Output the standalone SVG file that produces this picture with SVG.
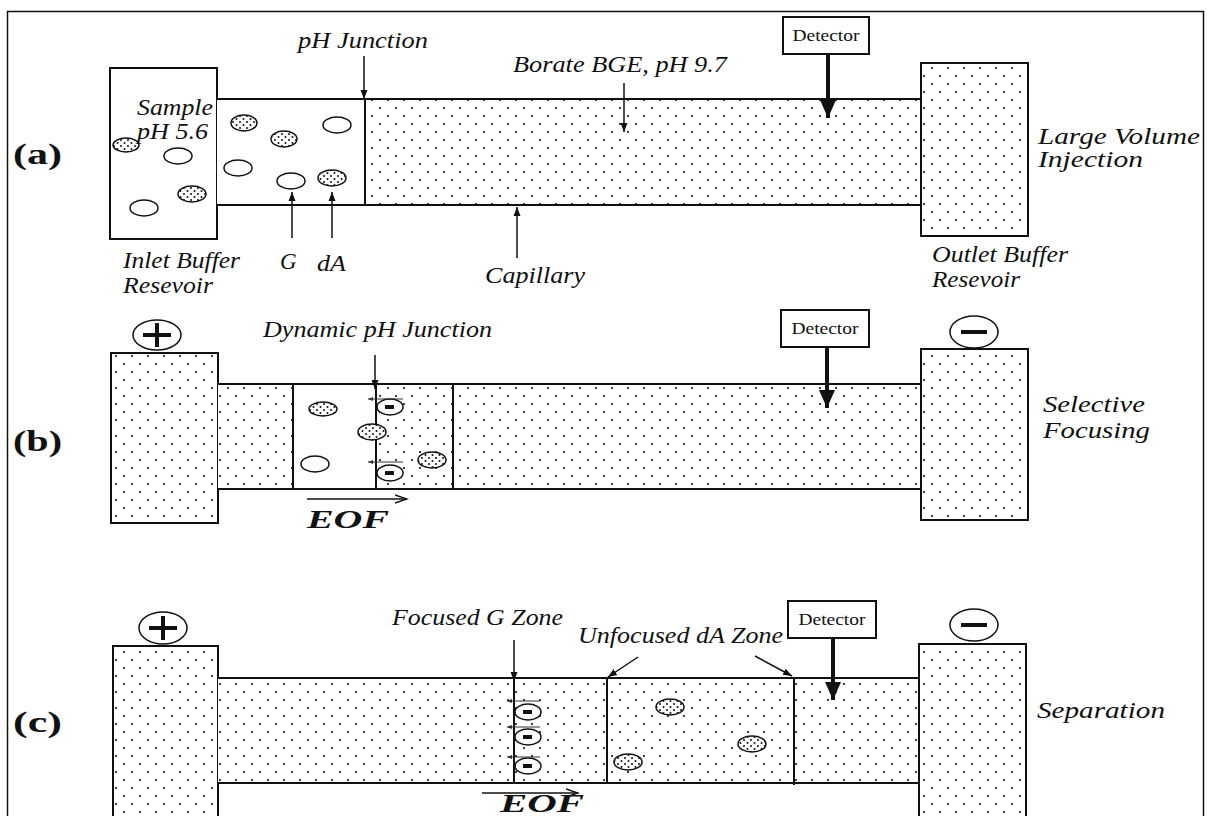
<svg xmlns="http://www.w3.org/2000/svg" width="1207" height="816" viewBox="0 0 1207 816">
<style>
  .lbl{font-family:"Liberation Serif","Times New Roman",serif;font-style:italic;font-size:23px;fill:#111}
  .pan{font-family:"Liberation Serif","Times New Roman",serif;font-weight:bold;font-size:30px;fill:#111}
  .det{font-family:"Liberation Serif","Times New Roman",serif;font-size:17px;fill:#111}
  .eof{font-family:"Liberation Serif","Times New Roman",serif;font-style:italic;font-weight:bold;font-size:25px;fill:#111}
  .wall{fill:none;stroke:#111;stroke-width:2}
  .dot{fill:url(#dots)}
  .white{fill:#fff}
  .box{fill:#fff;stroke:#111;stroke-width:2}
  .thin{stroke:#111;stroke-width:1.5;fill:none}
  .thick{stroke:#111;stroke-width:4;fill:none}
  .tiny{stroke:#333;stroke-width:1;fill:none}
  .part{stroke:#111;stroke-width:1.5}
  .sign{stroke:#111;stroke-width:4;fill:none}
</style>
<defs>
  <pattern id="dots" width="16" height="16" patternUnits="userSpaceOnUse">
    <rect width="16" height="16" fill="#fff"/>
    <circle cx="4" cy="4" r="1.1" fill="#111"/>
    <circle cx="12" cy="12" r="1.1" fill="#111"/>
  </pattern>
  <pattern id="pdots" width="7" height="6" patternUnits="userSpaceOnUse">
    <rect width="7" height="6" fill="#fff"/>
    <circle cx="2" cy="2" r="1" fill="#111"/>
    <circle cx="5.5" cy="5" r="1" fill="#111"/>
  </pattern>
  <marker id="ah" markerWidth="10" markerHeight="10" refX="9" refY="5" orient="auto" markerUnits="userSpaceOnUse">
    <path d="M0,1.5 L9,5 L0,8.5 z" fill="#111"/>
  </marker>
  <marker id="ahBig" markerWidth="20" markerHeight="20" refX="18" refY="10" orient="auto" markerUnits="userSpaceOnUse">
    <path d="M0,2 L18,10 L0,18 z" fill="#111"/>
  </marker>
  <marker id="ahOpen" markerWidth="14" markerHeight="10" refX="12" refY="5" orient="auto" markerUnits="userSpaceOnUse">
    <path d="M0,1 L12,5 L0,9" fill="none" stroke="#111" stroke-width="1.5"/>
  </marker>
  <marker id="ahTiny" markerWidth="6" markerHeight="6" refX="5" refY="3" orient="auto" markerUnits="userSpaceOnUse">
    <path d="M0,1 L5,3 L0,5 z" fill="#333"/>
  </marker>
</defs>
<rect width="1207" height="816" fill="#fff"/>
<rect id="frame" x="7.5" y="11.5" width="1196" height="830" fill="none" stroke="#111" stroke-width="1.5"/>

<!-- ================= Panel (a) ================= -->
<g id="panel-a">
  <text class="pan" x="13" y="164" textLength="49" lengthAdjust="spacingAndGlyphs">(a)</text>
  <g id="a-inlet">
    <rect class="box" x="110" y="68" width="107" height="171"/>
  </g>
  <g id="a-capillary">
    <rect class="white" x="217" y="99" width="148" height="106"/>
    <rect class="dot" x="365" y="99" width="556" height="106"/>
    <line class="wall" x1="217" y1="99" x2="921" y2="99"/>
    <line class="wall" x1="217" y1="205" x2="921" y2="205"/>
    <line class="wall" x1="365" y1="99" x2="365" y2="205"/>
  </g>
  <g id="a-outlet">
    <rect class="dot" x="921" y="63" width="107" height="173"/>
    <rect class="wall" x="921" y="63" width="107" height="173"/>
  </g>
  <g id="a-particles">
    <ellipse class="part" fill="url(#pdots)" cx="126" cy="145" rx="13" ry="7"/>
    <ellipse class="part" fill="#fff" cx="178" cy="156" rx="14" ry="8"/>
    <ellipse class="part" fill="url(#pdots)" cx="192" cy="194" rx="14" ry="8"/>
    <ellipse class="part" fill="#fff" cx="144" cy="208" rx="14" ry="8"/>
    <ellipse class="part" fill="url(#pdots)" cx="244" cy="123" rx="13" ry="8"/>
    <ellipse class="part" fill="url(#pdots)" cx="284" cy="139" rx="13" ry="8"/>
    <ellipse class="part" fill="#fff" cx="337" cy="125" rx="14" ry="8"/>
    <ellipse class="part" fill="#fff" cx="238" cy="168" rx="14" ry="8"/>
    <ellipse class="part" fill="#fff" cx="291" cy="181" rx="14" ry="8"/>
    <ellipse class="part" fill="url(#pdots)" cx="332" cy="178" rx="14" ry="8"/>
  </g>
  <g id="a-detector">
    <rect class="box" x="783" y="17" width="86" height="37"/>
    <text class="det" x="826" y="41" text-anchor="middle" textLength="67" lengthAdjust="spacingAndGlyphs">Detector</text>
  </g>
  <text class="lbl" font-size="21"><tspan x="137" y="115" textLength="76" lengthAdjust="spacingAndGlyphs">Sample</tspan><tspan x="137" y="139" textLength="71" lengthAdjust="spacingAndGlyphs">pH 5.6</tspan></text>
  <text class="lbl" x="298" y="48" textLength="130" lengthAdjust="spacingAndGlyphs">pH Junction</text>
  <text class="lbl" x="513" y="72" textLength="214" lengthAdjust="spacingAndGlyphs">Borate BGE, pH 9.7</text>
  <text class="lbl"><tspan x="123" y="268" textLength="117" lengthAdjust="spacingAndGlyphs">Inlet Buffer</tspan><tspan x="123" y="293" textLength="90" lengthAdjust="spacingAndGlyphs">Resevoir</tspan></text>
  <text class="lbl" x="280" y="269">G</text>
  <text class="lbl" x="317" y="271" textLength="29" lengthAdjust="spacingAndGlyphs">dA</text>
  <text class="lbl" x="485" y="283" textLength="100" lengthAdjust="spacingAndGlyphs">Capillary</text>
  <text class="lbl"><tspan x="932" y="262" textLength="136" lengthAdjust="spacingAndGlyphs">Outlet Buffer</tspan><tspan x="932" y="287" textLength="88" lengthAdjust="spacingAndGlyphs">Resevoir</tspan></text>
  <text class="lbl" font-size="25"><tspan x="1038" y="144" textLength="162" lengthAdjust="spacingAndGlyphs">Large Volume</tspan><tspan x="1038" y="167" textLength="105" lengthAdjust="spacingAndGlyphs">Injection</tspan></text>
</g>

<!-- ================= Panel (b) ================= -->
<g id="panel-b">
  <text class="pan" x="13" y="451" textLength="49" lengthAdjust="spacingAndGlyphs">(b)</text>
  <g id="b-anode">
    <ellipse cx="157" cy="335" rx="24" ry="15" fill="#fff" stroke="#111" stroke-width="1.5"/>
    <path class="sign" d="M143,335 H171 M157,323 V347"/>
  </g>
  <g id="b-inlet">
    <rect class="dot" x="111" y="353" width="107" height="170"/>
    <rect class="wall" x="111" y="353" width="107" height="170"/>
  </g>
  <g id="b-capillary">
    <rect class="dot" x="218" y="384" width="703" height="105"/>
    <rect class="white" x="293" y="385" width="83" height="103"/>
    <line class="wall" x1="218" y1="384" x2="921" y2="384"/>
    <line class="wall" x1="218" y1="489" x2="921" y2="489"/>
    <line class="wall" x1="293" y1="384" x2="293" y2="489"/>
    <line class="wall" x1="376" y1="384" x2="376" y2="489"/>
    <line class="wall" x1="453" y1="384" x2="453" y2="489"/>
  </g>
  <g id="b-outlet">
    <rect class="dot" x="921" y="349" width="107" height="171"/>
    <rect class="wall" x="921" y="349" width="107" height="171"/>
  </g>
  <g id="b-cathode">
    <ellipse cx="974" cy="332" rx="24" ry="16" fill="#fff" stroke="#111" stroke-width="1.5"/>
    <path class="sign" d="M961,332 H987"/>
  </g>
  <g id="b-particles">
    <ellipse class="part" fill="url(#pdots)" cx="323" cy="409" rx="14" ry="7"/>
    <ellipse class="part" fill="url(#pdots)" cx="372" cy="432" rx="14" ry="8"/>
    <ellipse class="part" fill="#fff" cx="315" cy="464" rx="14" ry="8"/>
    <ellipse class="part" fill="url(#pdots)" cx="432" cy="460" rx="14" ry="8"/>
    <ellipse class="part" fill="#fff" cx="390" cy="407" rx="13" ry="8"/>
    <path class="sign" stroke-width="3" d="M385,407 H394"/>
    <ellipse class="part" fill="#fff" cx="390" cy="473" rx="13" ry="8"/>
    <path class="sign" stroke-width="3" d="M385,473 H394"/>
    <line class="tiny" x1="403" y1="399" x2="368" y2="399" marker-end="url(#ahTiny)"/>
    <line class="tiny" x1="403" y1="462" x2="368" y2="462" marker-end="url(#ahTiny)"/>
  </g>
  <g id="b-detector">
    <rect class="box" x="781" y="310" width="88" height="37"/>
    <text class="det" x="825" y="334" text-anchor="middle" textLength="67" lengthAdjust="spacingAndGlyphs">Detector</text>
  </g>
  <text class="lbl" x="263" y="337" textLength="229" lengthAdjust="spacingAndGlyphs">Dynamic pH Junction</text>
  <text class="eof" x="307" y="528" textLength="82" lengthAdjust="spacingAndGlyphs">EOF</text>
  <text class="lbl" font-size="25"><tspan x="1043" y="412" textLength="102" lengthAdjust="spacingAndGlyphs">Selective</tspan><tspan x="1043" y="438" textLength="107" lengthAdjust="spacingAndGlyphs">Focusing</tspan></text>
</g>

<!-- ================= Panel (c) ================= -->
<g id="panel-c">
  <text class="pan" x="13" y="732" textLength="49" lengthAdjust="spacingAndGlyphs">(c)</text>
  <g id="c-anode">
    <ellipse cx="163" cy="628" rx="24" ry="16" fill="#fff" stroke="#111" stroke-width="1.5"/>
    <path class="sign" d="M149,628 H177 M163,616 V640"/>
  </g>
  <g id="c-inlet">
    <rect class="dot" x="113" y="646" width="105" height="190"/>
    <rect class="wall" x="113" y="646" width="105" height="190"/>
  </g>
  <g id="c-capillary">
    <rect class="dot" x="218" y="678" width="701" height="105"/>
    <line class="wall" x1="218" y1="678" x2="919" y2="678"/>
    <line class="wall" x1="218" y1="783" x2="919" y2="783"/>
    <line class="wall" x1="514" y1="678" x2="514" y2="783"/>
    <line class="wall" x1="607" y1="678" x2="607" y2="783"/>
    <line class="wall" x1="794" y1="678" x2="794" y2="785"/>
  </g>
  <g id="c-outlet">
    <rect class="dot" x="919" y="644" width="107" height="190"/>
    <rect class="wall" x="919" y="644" width="107" height="190"/>
  </g>
  <g id="c-cathode">
    <ellipse cx="974" cy="625" rx="24" ry="16" fill="#fff" stroke="#111" stroke-width="1.5"/>
    <path class="sign" d="M961,625 H987"/>
  </g>
  <g id="c-particles">
    <ellipse class="part" fill="#fff" cx="528" cy="712" rx="13" ry="8"/>
    <path class="sign" stroke-width="3" d="M523,712 H532"/>
    <ellipse class="part" fill="#fff" cx="528" cy="737" rx="13" ry="8"/>
    <path class="sign" stroke-width="3" d="M523,737 H532"/>
    <ellipse class="part" fill="#fff" cx="528" cy="766" rx="13" ry="8"/>
    <path class="sign" stroke-width="3" d="M523,766 H532"/>
    <line class="tiny" x1="540" y1="701" x2="507" y2="701" marker-end="url(#ahTiny)"/>
    <line class="tiny" x1="540" y1="727" x2="507" y2="727" marker-end="url(#ahTiny)"/>
    <line class="tiny" x1="540" y1="757" x2="507" y2="757" marker-end="url(#ahTiny)"/>
    <ellipse class="part" fill="url(#pdots)" cx="670" cy="707" rx="14" ry="8"/>
    <ellipse class="part" fill="url(#pdots)" cx="752" cy="744" rx="14" ry="8"/>
    <ellipse class="part" fill="url(#pdots)" cx="628" cy="762" rx="14" ry="8"/>
  </g>
  <g id="c-detector">
    <rect class="box" x="788" y="601" width="88" height="37"/>
    <text class="det" x="832" y="625" text-anchor="middle" textLength="67" lengthAdjust="spacingAndGlyphs">Detector</text>
  </g>
  <text class="lbl" x="392" y="625" textLength="171" lengthAdjust="spacingAndGlyphs">Focused G Zone</text>
  <text class="lbl" x="578" y="643" textLength="205" lengthAdjust="spacingAndGlyphs">Unfocused dA Zone</text>
  <text class="eof" x="500" y="812" font-size="24" textLength="84" lengthAdjust="spacingAndGlyphs">EOF</text>
  <text class="lbl" x="1037" y="718" font-size="25" textLength="128" lengthAdjust="spacingAndGlyphs">Separation</text>
</g>

<!-- ================= Connectors ================= -->
<g id="connectors">
  <line class="thin" x1="364" y1="56" x2="364" y2="99" marker-end="url(#ah)"/>
  <line class="thin" x1="624" y1="83" x2="624" y2="132" marker-end="url(#ah)"/>
  <line class="thin" x1="292" y1="238" x2="292" y2="192" marker-end="url(#ah)"/>
  <line class="thin" x1="332" y1="238" x2="332" y2="192" marker-end="url(#ah)"/>
  <line class="thin" x1="517" y1="258" x2="517" y2="207" marker-end="url(#ah)"/>
  <line class="thick" x1="828" y1="54" x2="828" y2="118" marker-end="url(#ahBig)"/>

  <line class="thin" x1="375" y1="355" x2="375" y2="389" marker-end="url(#ah)"/>
  <line class="thick" x1="827" y1="347" x2="827" y2="408" marker-end="url(#ahBig)"/>
  <line class="thin" x1="307" y1="499" x2="407" y2="499" marker-end="url(#ahOpen)"/>

  <line class="thin" x1="514" y1="640" x2="514" y2="681" marker-end="url(#ah)"/>
  <line class="thin" x1="638" y1="657" x2="608" y2="677" marker-end="url(#ah)"/>
  <line class="thin" x1="755" y1="656" x2="792" y2="676" marker-end="url(#ah)"/>
  <line class="thick" x1="833" y1="638" x2="833" y2="700" marker-end="url(#ahBig)"/>
  <line class="thin" x1="482" y1="793" x2="578" y2="793" marker-end="url(#ahOpen)"/>
</g>
</svg>
